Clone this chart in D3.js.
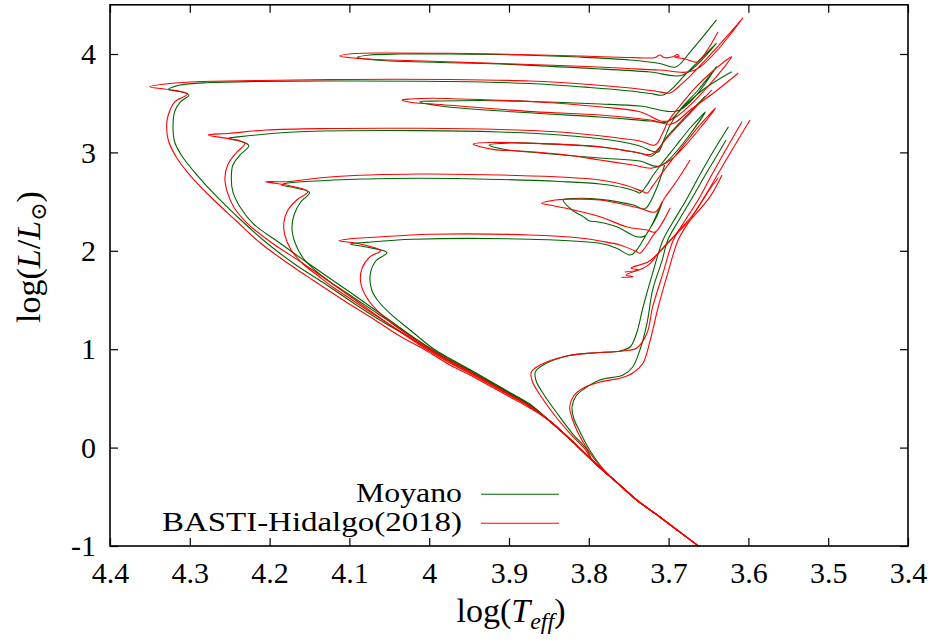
<!DOCTYPE html>
<html>
<head>
<meta charset="utf-8">
<script src="https://cdn.jsdelivr.net/npm/d3@7"></script>
<style>
  body { margin: 0; background: #fff; }
  text { font-family: "Liberation Serif", "DejaVu Serif", serif; fill: #000; }
</style>
</head>
<body>
<svg id="chart" width="939" height="642"></svg>
<script>
// tick values
const xTicks = [4.4, 4.3, 4.2, 4.1, 4.0, 3.9, 3.8, 3.7, 3.6, 3.5, 3.4];
const yTicks = [-1, 0, 1, 2, 3, 4];

// lower main sequence, shared by every isochrone [logTeff, logL]
const lowerMS = [[3.646,-1.102],[3.661,-1.010],[3.686,-0.858],[3.711,-0.705],[3.740,-0.533],[3.767,-0.339],
  [3.795,-0.136],[3.821,0.067],[3.849,0.270],[3.874,0.423],[3.899,0.535],[3.924,0.646],[3.949,0.758],[3.974,0.860]];

// Moyano (green)
const moyano1 = [[3.874,0.433],[3.899,0.550],[3.924,0.667],[3.949,0.778],[3.974,0.885],
  [3.999,0.992],[4.030,1.144],[4.062,1.297],[4.097,1.480],[4.134,1.683],[4.167,1.856],[4.202,2.069],
  [4.236,2.313],[4.267,2.557],[4.291,2.770],[4.309,2.953],[4.319,3.106],[4.321,3.248],[4.319,3.414],[4.312,3.512],
  [4.301,3.583],[4.312,3.619],[4.327,3.639],[4.312,3.685],[4.275,3.710],[4.212,3.721],[4.099,3.726],[3.974,3.721],
  [3.874,3.700],[3.799,3.660],[3.748,3.624],[3.723,3.599],[3.707,3.583],[3.696,3.644],[3.682,3.766],[3.661,3.939],
  [3.640,4.109],[3.682,3.787],[3.723,3.817],[3.786,3.848],[3.911,3.898],[3.986,3.914],[4.049,3.929],[4.080,3.949],
  [4.090,3.967],[4.074,3.990],[4.037,4.000],[3.974,4.000],[3.886,3.990],[3.811,3.969],[3.748,3.939],[3.711,3.903],
  [3.691,3.868],[3.673,4.020],[3.640,4.346]];
const moyano2 = [[3.874,0.428],[3.899,0.545],[3.924,0.661],[3.949,0.773],[3.974,0.880],
  [4.008,1.053],[4.043,1.256],[4.080,1.470],[4.116,1.673],[4.154,1.886],[4.189,2.089],[4.220,2.272],
  [4.237,2.445],[4.246,2.598],[4.248,2.740],[4.246,2.872],[4.237,2.974],[4.226,3.068],[4.237,3.116],[4.252,3.143],
  [4.237,3.160],[4.162,3.210],[4.012,3.221],[3.911,3.207],[3.836,3.177],[3.773,3.126],[3.736,3.065],[3.721,3.014],
  [3.713,3.004],[3.706,3.126],[3.698,3.278],[3.686,3.431],[3.663,3.634],[3.640,3.871],[3.686,3.431],[3.736,3.472],
  [3.786,3.492],[3.870,3.517],[3.936,3.528],[3.986,3.522],[4.012,3.515],[3.986,3.472],[3.870,3.400],[3.786,3.360],
  [3.723,3.319],[3.702,3.309],[3.679,3.482],[3.654,3.654],[3.621,3.820]];
const moyano3 = [[3.874,0.438],[3.899,0.555],[3.924,0.672],[3.949,0.788],[3.974,0.895],
  [3.999,1.012],[4.030,1.175],[4.062,1.348],[4.092,1.510],[4.109,1.602],[4.124,1.683],[4.142,1.795],
  [4.158,1.927],[4.168,2.079],[4.172,2.232],[4.169,2.374],[4.161,2.496],[4.150,2.591],[4.167,2.638],[4.185,2.669],
  [4.179,2.686],[4.078,2.730],[4.012,2.737],[3.911,2.725],[3.836,2.704],[3.786,2.679],[3.755,2.638],[3.740,2.601],
  [3.736,2.587],[3.728,2.659],[3.720,2.760],[3.708,2.892],[3.692,3.055],[3.673,3.248],[3.654,3.411],[3.711,2.862],
  [3.736,2.913],[3.786,2.943],[3.861,2.994],[3.905,3.029],[3.925,3.075],[3.899,3.096],[3.861,3.090],[3.786,3.055],
  [3.736,2.994],[3.721,2.963],[3.701,3.167],[3.673,3.411],[3.654,3.573]];
const moyano4 = [[3.874,0.443],[3.899,0.560],[3.924,0.677],[3.949,0.793],[3.974,0.905],
  [3.996,1.012],[4.024,1.195],[4.047,1.348],[4.064,1.490],[4.072,1.602],[4.074,1.754],[4.067,1.896],
  [4.053,1.981],[4.079,2.039],[4.099,2.069],[4.078,2.086],[4.020,2.117],[3.874,2.117],[3.786,2.076],[3.765,2.025],
  [3.748,1.957],[3.740,2.008],[3.727,2.178],[3.715,2.347],[3.708,2.496],[3.730,2.150],[3.740,2.143],[3.765,2.245],
  [3.788,2.293],[3.799,2.303],[3.803,2.323],[3.807,2.347],[3.821,2.415],[3.832,2.516],[3.817,2.532],[3.786,2.523],
  [3.744,2.465],[3.730,2.425],[3.717,2.598],[3.705,2.872]];
const moyano5 = [[3.802,-0.024],[3.821,0.148],[3.840,0.352],[3.856,0.535],[3.866,0.677],[3.867,0.768],[3.855,0.849],
  [3.824,0.936],[3.786,0.966],[3.761,0.982],[3.748,1.025],[3.740,1.165],[3.732,1.429],[3.720,1.774],[3.707,2.110],
  [3.693,2.313],[3.678,2.516],[3.661,2.770],[3.643,3.024],[3.625,3.261]];
const moyano6 = [[3.785,-0.187],[3.799,-0.024],[3.811,0.159],[3.819,0.301],[3.821,0.413],[3.816,0.524],[3.806,0.596],
  [3.786,0.687],[3.757,0.738],[3.745,0.819],[3.736,0.992],[3.727,1.266],[3.720,1.602],[3.708,1.906],[3.701,2.110],
  [3.687,2.313],[3.672,2.516],[3.654,2.770],[3.639,2.974],[3.628,3.126]];

// BASTI-Hidalgo 2018 (red)
const basti1 = [[3.874,0.402],[3.899,0.514],[3.924,0.626],[3.949,0.738],[3.974,0.839],
  [4.005,0.992],[4.037,1.134],[4.068,1.297],[4.106,1.490],[4.146,1.703],[4.174,1.856],[4.210,2.069],
  [4.243,2.313],[4.275,2.557],[4.300,2.770],[4.317,2.953],[4.327,3.126],[4.329,3.278],[4.327,3.380],[4.319,3.512],
  [4.303,3.593],[4.322,3.634],[4.350,3.668],[4.325,3.700],[4.287,3.721],[4.212,3.731],[4.099,3.741],[3.974,3.741],
  [3.874,3.726],[3.799,3.690],[3.748,3.654],[3.717,3.624],[3.698,3.604],[3.688,3.665],[3.673,3.776],[3.654,3.939],
  [3.629,4.162],[3.607,4.366],[3.667,3.837],[3.711,3.837],[3.761,3.858],[3.836,3.883],[3.911,3.903],[3.986,3.924],
  [4.049,3.939],[4.087,3.954],[4.112,3.980],[4.093,4.005],[4.049,4.010],[3.974,4.007],[3.886,3.995],[3.811,3.980],
  [3.748,3.964],[3.717,3.964],[3.711,3.990],[3.706,3.964],[3.696,3.969],[3.689,3.995],[3.687,3.975],[3.693,3.969],
  [3.679,3.949],[3.664,3.919],[3.654,4.010],[3.638,4.224]];
const basti2 = [[3.874,0.413],[3.899,0.530],[3.924,0.641],[3.949,0.753],[3.974,0.860],
  [4.012,1.043],[4.047,1.236],[4.084,1.449],[4.121,1.663],[4.159,1.876],[4.197,2.079],[4.227,2.272],
  [4.245,2.445],[4.253,2.598],[4.256,2.740],[4.252,2.882],[4.242,2.994],[4.231,3.092],[4.247,3.133],[4.277,3.177],
  [4.250,3.194],[4.204,3.228],[4.124,3.243],[4.012,3.245],[3.911,3.233],[3.836,3.207],[3.773,3.156],[3.736,3.116],
  [3.717,3.075],[3.708,3.187],[3.701,3.309],[3.688,3.451],[3.667,3.654],[3.646,3.817],[3.621,3.973],[3.701,3.319],
  [3.736,3.414],[3.786,3.464],[3.870,3.515],[3.961,3.543],[3.995,3.550],[4.024,3.543],[4.034,3.533],[4.022,3.507],
  [3.995,3.492],[3.870,3.414],[3.786,3.380],[3.723,3.329],[3.696,3.289],[3.673,3.431],[3.642,3.614],[3.613,3.804]];
const basti3 = [[3.874,0.418],[3.899,0.535],[3.924,0.651],[3.949,0.763],[3.974,0.870],
  [4.005,1.022],[4.039,1.195],[4.074,1.378],[4.106,1.551],[4.121,1.632],[4.139,1.744],[4.158,1.866],
  [4.173,2.008],[4.181,2.161],[4.182,2.293],[4.177,2.415],[4.166,2.516],[4.152,2.601],[4.174,2.659],[4.205,2.702],
  [4.179,2.702],[4.121,2.753],[4.012,2.780],[3.911,2.770],[3.836,2.750],[3.786,2.720],[3.755,2.669],[3.732,2.601],
  [3.727,2.587],[3.720,2.659],[3.711,2.760],[3.698,2.902],[3.679,3.096],[3.661,3.278],[3.641,3.451],[3.696,2.933],
  [3.720,2.841],[3.745,2.872],[3.786,2.923],[3.828,2.974],[3.886,3.014],[3.920,3.031],[3.945,3.085],[3.924,3.101],
  [3.870,3.092],[3.786,3.058],[3.745,3.007],[3.721,2.984],[3.701,3.157],[3.673,3.400],[3.646,3.634]];
const basti4 = [[3.874,0.423],[3.899,0.540],[3.924,0.656],[3.949,0.773],[3.974,0.885],
  [4.005,1.033],[4.037,1.205],[4.062,1.368],[4.078,1.520],[4.086,1.683],[4.084,1.825],[4.074,1.940],
  [4.061,2.001],[4.091,2.076],[4.113,2.103],[4.099,2.122],[4.070,2.137],[3.999,2.168],[3.874,2.161],[3.811,2.130],
  [3.786,2.100],[3.761,2.059],[3.740,1.991],[3.736,1.975],[3.728,2.049],[3.720,2.150],[3.711,2.245],[3.698,2.435],
  [3.717,2.191],[3.727,2.211],[3.753,2.245],[3.786,2.347],[3.828,2.432],[3.849,2.465],[3.859,2.483],[3.842,2.516],
  [3.828,2.523],[3.786,2.516],[3.736,2.432],[3.717,2.394],[3.705,2.537],[3.689,2.720],[3.673,2.923]];
const basti5 = [[3.804,-0.024],[3.824,0.148],[3.845,0.352],[3.861,0.535],[3.871,0.677],[3.872,0.768],[3.861,0.839],
  [3.828,0.931],[3.786,0.966],[3.757,0.982],[3.740,1.012],[3.727,1.165],[3.720,1.429],[3.707,1.774],[3.694,2.110],
  [3.679,2.313],[3.663,2.516],[3.646,2.770],[3.627,3.045],[3.608,3.312]];
const basti6 = [[3.786,-0.187],[3.801,-0.024],[3.814,0.159],[3.821,0.301],[3.824,0.413],[3.819,0.524],[3.809,0.596],
  [3.786,0.667],[3.761,0.704],[3.745,0.758],[3.732,0.860],[3.723,1.093],[3.713,1.429],[3.701,1.774],[3.688,2.110],
  [3.673,2.313],[3.657,2.516],[3.639,2.770],[3.619,3.045],[3.598,3.329]];
// red clump + early AGB of the two oldest BASTI isochrones
const bastiClump5 = [[3.759,1.731],[3.745,1.737],[3.753,1.754],[3.732,1.822],[3.723,1.873],[3.713,1.975],[3.702,2.076],
  [3.689,2.181],[3.669,2.347],[3.648,2.550],[3.633,2.770]];
const bastiClump6 = [[3.755,1.785],[3.738,1.805],[3.747,1.825],[3.726,1.886],[3.711,1.991],[3.690,2.178],[3.669,2.374],
  [3.651,2.598],[3.638,2.740]];

const seriesNames = ['Moyano', 'BASTI-Hidalgo(2018)'];
const seriesColors = ['#006400', '#ff0000'];

const msRed = lowerMS.slice(0, 9), msGreen = lowerMS.slice(4, 9);
const moyanoTracks = [
  msGreen.concat(moyano1), msGreen.concat(moyano2), msGreen.concat(moyano3), msGreen.concat(moyano4),
  lowerMS.slice(4, 7).concat(moyano5), lowerMS.slice(4, 6).concat(moyano6)
];
const bastiTracks = [
  msRed.concat(basti1), msRed.concat(basti2), msRed.concat(basti3), msRed.concat(basti4),
  lowerMS.slice(0, 7).concat(basti5), lowerMS.slice(0, 6).concat(basti6), bastiClump5, bastiClump6
];

const svg = d3.select('#chart');
const plotLeft = 110, plotRight = 908, plotTop = 4.8, plotBottom = 546;
const serif = '"Liberation Serif", "DejaVu Serif", serif';

const x = d3.scaleLinear().domain([4.4, 3.4]).range([plotLeft, plotRight]);
const y = d3.scaleLinear().domain([-1, 4.5]).range([plotBottom, plotTop]);

svg.append('defs').append('clipPath').attr('id', 'plotArea')
  .append('rect').attr('x', plotLeft).attr('y', plotTop)
  .attr('width', plotRight - plotLeft).attr('height', plotBottom - plotTop);

const line = d3.line()
  .x(d => x(d[0]))
  .y(d => y(d[1]))
  .curve(d3.curveCatmullRom.alpha(0.5));

const curves = svg.append('g').attr('clip-path', 'url(#plotArea)');
[moyanoTracks, bastiTracks].forEach((tracks, i) => {
  curves.append('g').selectAll('path')
    .data(tracks)
    .enter().append('path')
    .attr('d', line)
    .attr('fill', 'none')
    .attr('stroke', seriesColors[i])
    .attr('stroke-width', 1.1)
    .attr('stroke-linejoin', 'round');
});

// axes, ticks pointing inward on all four sides
const fmt = d => String(d);
const axes = [
  svg.append('g').attr('transform', `translate(0,${plotBottom})`)
    .call(d3.axisBottom(x).tickValues(xTicks).tickSize(-8).tickPadding(16).tickFormat(fmt)),
  svg.append('g').attr('transform', `translate(0,${plotTop})`)
    .call(d3.axisTop(x).tickValues(xTicks).tickSize(-8).tickFormat('')),
  svg.append('g').attr('transform', `translate(${plotLeft},0)`)
    .call(d3.axisLeft(y).tickValues(yTicks).tickSize(-8).tickPadding(14).tickFormat(fmt)),
  svg.append('g').attr('transform', `translate(${plotRight},0)`)
    .call(d3.axisRight(y).tickValues(yTicks).tickSize(-8).tickFormat(''))
];
axes.forEach(g => {
  g.select('.domain').remove();
  g.attr('font-family', null).attr('font-size', null);
  g.selectAll('line').attr('stroke', '#000').attr('stroke-width', 1.2);
  g.selectAll('text').style('font-family', serif).style('font-size', '30px').attr('fill', '#000');
});

svg.append('rect')
  .attr('x', plotLeft).attr('y', plotTop)
  .attr('width', plotRight - plotLeft).attr('height', plotBottom - plotTop)
  .attr('fill', 'none').attr('stroke', '#000').attr('stroke-width', 1.6);

// axis labels
const xLabel = svg.append('text').attr('x', 511).attr('y', 622).attr('text-anchor', 'middle').attr('font-size', 34);
xLabel.append('tspan').text('log(');
xLabel.append('tspan').attr('font-style', 'italic').text('T');
xLabel.append('tspan').attr('font-style', 'italic').attr('font-size', 24).attr('dy', 7).text('eff');
xLabel.append('tspan').attr('dy', -7).text(')');

const yLabel = svg.append('text').attr('transform', 'translate(40,257) rotate(-90)')
  .attr('text-anchor', 'middle').attr('font-size', 34);
yLabel.append('tspan').text('log(');
yLabel.append('tspan').attr('font-style', 'italic').text('L');
yLabel.append('tspan').text('/');
yLabel.append('tspan').attr('font-style', 'italic').text('L');
yLabel.append('tspan').attr('font-size', 22).attr('dy', 6).text('\u2299');
yLabel.append('tspan').attr('dy', -6).text(')');

// legend
const legendWidths = [106, 300];
const legend = svg.append('g');
seriesNames.forEach((name, i) => {
  const ly = 494.3 + i * 29;
  legend.append('text').attr('x', 462).attr('y', ly + 8).attr('text-anchor', 'end')
    .attr('font-size', 27).attr('textLength', legendWidths[i]).attr('lengthAdjust', 'spacingAndGlyphs')
    .text(name);
  legend.append('line').attr('x1', 481).attr('x2', 559).attr('y1', ly).attr('y2', ly)
    .attr('stroke', seriesColors[i]).attr('stroke-width', 1.1);
});
</script>
</body>
</html>
